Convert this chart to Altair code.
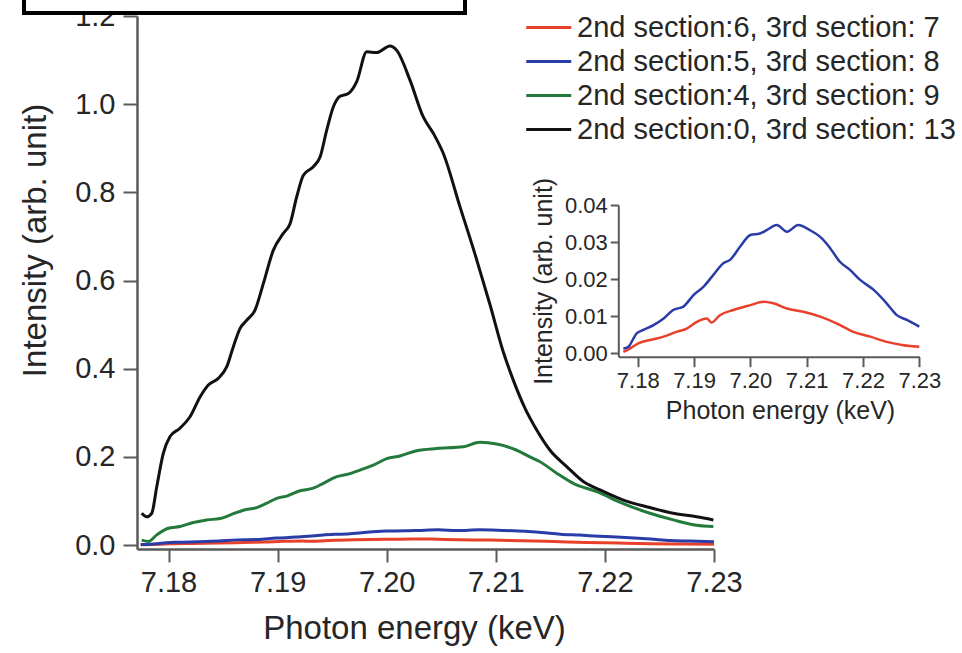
import altair as alt
import pandas as pd

FONT = "Liberation Sans"

SERIES = [
    "2nd section:6, 3rd section: 7",
    "2nd section:5, 3rd section: 8",
    "2nd section:4, 3rd section: 9",
    "2nd section:0, 3rd section: 13",
]
COLORS = ["#e8402a", "#2a3ca8", "#237a3a", "#111111"]

# 2nd section:6, 3rd section: 7
red_energy = [7.17745, 7.1786, 7.1801, 7.1822, 7.1846, 7.1869, 7.1887, 7.1905,
              7.1923, 7.1931, 7.1946, 7.1970, 7.2000, 7.2023, 7.2041, 7.2065,
              7.2094, 7.2124, 7.2153, 7.2183, 7.2213, 7.2242, 7.2272, 7.2300]
red_intensity = [0.0004, 0.0013, 0.0027, 0.0036, 0.0045, 0.0058, 0.0067, 0.0085,
                 0.0094, 0.0083, 0.0103, 0.0117, 0.0130, 0.0139, 0.0135, 0.0121,
                 0.0112, 0.0099, 0.0081, 0.0058, 0.0045, 0.0031, 0.0022, 0.0018]

# 2nd section:5, 3rd section: 8
blue_energy = [7.17745, 7.17834, 7.17982, 7.1810, 7.1828, 7.1846, 7.1863, 7.1881,
               7.1899, 7.1917, 7.1934, 7.1952, 7.1964, 7.1982, 7.2000, 7.2017,
               7.2029, 7.2047, 7.2065, 7.2085, 7.2106, 7.2127, 7.2142, 7.2159,
               7.2177, 7.2195, 7.2219, 7.2242, 7.2260, 7.2278, 7.2300]
blue_intensity = [0.0013, 0.0018, 0.0054, 0.0063, 0.0076, 0.0094, 0.0117, 0.0126,
                  0.0157, 0.0180, 0.0211, 0.0243, 0.0252, 0.0288, 0.0319, 0.0323,
                  0.0332, 0.0346, 0.0328, 0.0346, 0.0332, 0.0310, 0.0283, 0.0247,
                  0.0225, 0.0198, 0.0171, 0.0135, 0.0103, 0.0090, 0.0072]

# 2nd section:4, 3rd section: 9
green_energy = [7.17754, 7.17815, 7.17892, 7.17998, 7.18105, 7.18227, 7.18350,
                7.18472, 7.18564, 7.18686, 7.18808, 7.18900, 7.18992, 7.19083,
                7.19205, 7.19327, 7.19419, 7.19542, 7.19664, 7.19755, 7.19877,
                7.20000, 7.20122, 7.20275, 7.20458, 7.20702, 7.20855, 7.21008,
                7.21192, 7.21313, 7.21405, 7.21558, 7.21710, 7.21925, 7.22169,
                7.22413, 7.22627, 7.22841, 7.22994]
green_intensity = [0.011, 0.008, 0.023, 0.038, 0.042, 0.051, 0.057,
                   0.060, 0.068, 0.079, 0.085, 0.095, 0.106, 0.111,
                   0.123, 0.129, 0.140, 0.155, 0.162, 0.170, 0.181,
                   0.196, 0.202, 0.214, 0.219, 0.223, 0.233, 0.229,
                   0.215, 0.200, 0.189, 0.163, 0.140, 0.121, 0.094,
                   0.072, 0.057, 0.045, 0.042]

# 2nd section:0, 3rd section: 13
black_energy = [7.17754, 7.17800, 7.17846, 7.17892, 7.17952, 7.18014, 7.18105,
                7.18197, 7.18289, 7.18365, 7.18456, 7.18533, 7.18594, 7.18655,
                7.18717, 7.18793, 7.18869, 7.18961, 7.19052, 7.19114, 7.19175,
                7.19236, 7.19327, 7.19389, 7.19450, 7.19511, 7.19572, 7.19648,
                7.19725, 7.19817, 7.19908, 7.20030, 7.20092, 7.20214, 7.20335,
                7.20427, 7.20519, 7.20672, 7.20809, 7.20947, 7.21066, 7.21160,
                7.21268, 7.21375, 7.21497, 7.21650, 7.21802, 7.21955, 7.22169,
                7.22413, 7.22627, 7.22841, 7.22994]
black_intensity = [0.072, 0.064, 0.072, 0.132, 0.208, 0.246, 0.265,
                   0.291, 0.336, 0.363, 0.378, 0.404, 0.450, 0.491,
                   0.510, 0.533, 0.593, 0.669, 0.707, 0.729, 0.790,
                   0.839, 0.858, 0.880, 0.941, 0.994, 1.018, 1.024,
                   1.051, 1.119, 1.117, 1.132, 1.122, 1.054, 0.971,
                   0.934, 0.888, 0.767, 0.660, 0.545, 0.440, 0.374,
                   0.310, 0.261, 0.215, 0.178, 0.144, 0.125, 0.102,
                   0.085, 0.072, 0.064, 0.057]

X_TICKS = [7.18, 7.19, 7.20, 7.21, 7.22, 7.23]
Y_TICKS = [0.0, 0.2, 0.4, 0.6, 0.8, 1.0, 1.2]
INSET_Y_TICKS = [0.0, 0.01, 0.02, 0.03, 0.04]

frames = []
for name, xs, ys in zip(
    SERIES,
    [red_energy, blue_energy, green_energy, black_energy],
    [red_intensity, blue_intensity, green_intensity, black_intensity],
):
    frames.append(pd.DataFrame({"energy": xs, "intensity": ys, "series": name}))
df = pd.concat(frames, ignore_index=True)

AXIS_GREY = "#5a5a5a"
TEXT = "#262626"

color = alt.Color(
    "series:N",
    scale=alt.Scale(domain=SERIES, range=COLORS),
    legend=alt.Legend(
        title=None, orient="none", legendX=386, legendY=-3,
        symbolType="M-1,0H3", symbolSize=506, symbolStrokeWidth=3,
        labelFont=FONT, labelFontSize=29, labelColor=TEXT, labelOffset=25,
        labelLimit=600, rowPadding=4,
    ),
)

main = alt.Chart(df).mark_line(strokeWidth=3, interpolate="monotone").encode(
    x=alt.X(
        "energy:Q",
        scale=alt.Scale(domain=[7.17711, 7.23], nice=False, zero=False),
        axis=alt.Axis(
            title="Photon energy (keV)", values=X_TICKS, format=".2f",
            grid=False, labelFlush=False, labelOverlap=False,
            labelFont=FONT, labelFontSize=29, labelColor=TEXT, labelPadding=6,
            titleFont=FONT, titleFontSize=33, titleFontWeight="normal",
            titleColor=TEXT, titlePadding=15, titleX=277,
            tickSize=13, tickWidth=2, tickColor=AXIS_GREY,
            domainWidth=2.5, domainColor=AXIS_GREY,
        ),
    ),
    y=alt.Y(
        "intensity:Q",
        scale=alt.Scale(domain=[-0.009, 1.2], nice=False, zero=False),
        axis=alt.Axis(
            title="Intensity (arb. unit)", values=Y_TICKS, format=".1f",
            grid=False, labelOverlap=False,
            labelFont=FONT, labelFontSize=29, labelColor=TEXT, labelPadding=8,
            titleFont=FONT, titleFontSize=33, titleFontWeight="normal",
            titleColor=TEXT, titlePadding=22, titleY=224,
            tickSize=14, tickWidth=2, tickColor=AXIS_GREY,
            domainWidth=2.5, domainColor=AXIS_GREY,
        ),
    ),
    color=color,
)

# zoomed view of the two weakest spectra, drawn on its own scales
inset = alt.Chart(df).transform_filter(
    alt.FieldOneOfPredicate(field="series", oneOf=SERIES[:2])
).mark_line(strokeWidth=2.5, interpolate="monotone").encode(
    x=alt.X(
        "energy:Q",
        scale=alt.Scale(domain=[7.17655, 7.23], range=[481.3, 782.3], nice=False, zero=False),
        axis=alt.Axis(
            orient="bottom", offset=-192.3,
            title="Photon energy (keV)", values=X_TICKS, format=".2f",
            grid=False, labelFlush=False, labelOverlap=False,
            labelFont=FONT, labelFontSize=22, labelColor=TEXT, labelPadding=4,
            titleFont=FONT, titleFontSize=25, titleFontWeight="normal",
            titleColor=TEXT, titlePadding=7, titleX=643,
            tickSize=10, tickWidth=2, tickColor=AXIS_GREY,
            domainWidth=2, domainColor=AXIS_GREY,
        ),
    ),
    y=alt.Y(
        "intensity:Q",
        scale=alt.Scale(domain=[-0.0009, 0.04], range=[340.7, 189], nice=False, zero=False),
        axis=alt.Axis(
            orient="left", offset=-481.3,
            title="Intensity (arb. unit)", values=INSET_Y_TICKS, format=".2f",
            grid=False, labelOverlap=False,
            labelFont=FONT, labelFontSize=22, labelColor=TEXT, labelPadding=3,
            titleFont=FONT, titleFontSize=25, titleFontWeight="normal",
            titleColor=TEXT, titlePadding=8,
            tickSize=8, tickWidth=2, tickColor=AXIS_GREY,
            domainWidth=2, domainColor=AXIS_GREY,
        ),
    ),
    color=color,
)

# framed panel along the top edge
frame = alt.Chart(pd.DataFrame({"k": [0]})).mark_rect(
    fill="white", stroke="black", strokeWidth=4
).encode(
    x=alt.value(-113), x2=alt.value(328), y=alt.value(-30), y2=alt.value(-3)
)

chart = alt.layer(main, inset, frame).resolve_scale(
    x="independent", y="independent"
).properties(
    width=577, height=533,
    padding={"left": 137, "top": 16, "right": 248, "bottom": 104},
    autosize=alt.AutoSizeParams(type="none"),
    background="white",
).configure_view(stroke=None)

chart.save("out.html", embed_options={"renderer": "svg", "actions": False})
